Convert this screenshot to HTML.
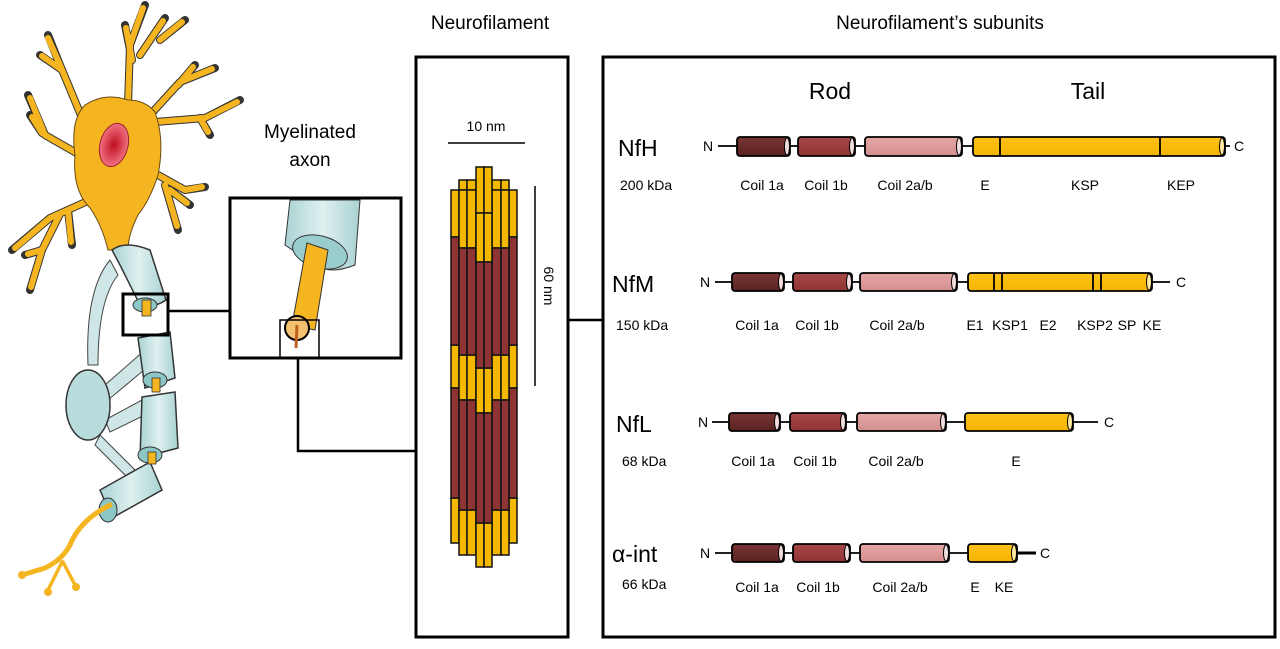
<!DOCTYPE html>
<html><head><meta charset="utf-8"><style>
html,body{margin:0;padding:0;background:#fff;}
svg{display:block;font-family:"Liberation Sans",Arial,sans-serif;}
</style></head><body>
<svg width="1280" height="649" viewBox="0 0 1280 649" xmlns="http://www.w3.org/2000/svg">
<defs>
<linearGradient id="c1" x1="0" y1="0" x2="0" y2="1"><stop offset="0" stop-color="#7a3535"/><stop offset="1" stop-color="#5a2222"/></linearGradient>
<linearGradient id="c2" x1="0" y1="0" x2="0" y2="1"><stop offset="0" stop-color="#a84848"/><stop offset="1" stop-color="#8e3333"/></linearGradient>
<linearGradient id="c3" x1="0" y1="0" x2="0" y2="1"><stop offset="0" stop-color="#e6a6a6"/><stop offset="1" stop-color="#d48f8f"/></linearGradient>
<linearGradient id="ct" x1="0" y1="0" x2="0" y2="1"><stop offset="0" stop-color="#ffc21a"/><stop offset="1" stop-color="#f5b400"/></linearGradient>
<linearGradient id="my" x1="0" y1="0" x2="1" y2="0"><stop offset="0" stop-color="#a9d2d2"/><stop offset="0.5" stop-color="#dff0f0"/><stop offset="1" stop-color="#a9d2d2"/></linearGradient>
<radialGradient id="nuc"><stop offset="0" stop-color="#c01020"/><stop offset="1" stop-color="#f07080"/></radialGradient>
</defs>

<!-- Neuron dendrites -->
<g id="dend" stroke-linecap="round" stroke-linejoin="round" fill="none">
<g stroke="#333" stroke-width="8">
<path d="M85 125 L60 65 L48 35"/><path d="M62 70 L40 55"/>
<path d="M128 105 L130 45 L145 5"/><path d="M132 60 L125 25"/><path d="M140 55 L165 18"/><path d="M160 40 L185 20"/>
<path d="M150 115 L180 82 L215 68"/><path d="M178 85 L195 65"/>
<path d="M155 122 L205 118 L240 100"/><path d="M200 118 L210 135"/>
<path d="M158 175 L185 190 L205 187"/><path d="M165 185 L178 230"/><path d="M170 190 L190 205"/>
<path d="M80 155 L45 135 L28 95"/><path d="M42 133 L30 115"/>
<path d="M90 200 L50 218 L12 250"/><path d="M60 214 L42 250 L30 290"/><path d="M68 210 L72 245"/><path d="M42 250 L25 255"/>
</g>
<g stroke="#f5b520" stroke-width="6">
<path d="M85 125 L60 65 L48 38"/><path d="M62 70 L42 56"/>
<path d="M128 105 L130 45 L143 8"/><path d="M132 60 L126 28"/><path d="M140 55 L163 21"/><path d="M160 40 L182 22"/>
<path d="M150 115 L180 82 L212 69"/><path d="M178 85 L193 67"/>
<path d="M155 122 L205 118 L237 102"/><path d="M200 118 L208 132"/>
<path d="M158 175 L185 190 L202 187"/><path d="M165 185 L177 226"/><path d="M170 190 L187 203"/>
<path d="M80 155 L45 135 L30 98"/><path d="M42 133 L32 117"/>
<path d="M90 200 L50 218 L15 248"/><path d="M60 214 L42 250 L31 287"/><path d="M68 210 L71 242"/><path d="M42 250 L28 254"/>
</g>
</g>
<path d="M85 105 Q105 92 128 100 Q145 100 155 112 Q165 140 158 175 Q150 200 138 215 Q128 235 128 250 L108 250 Q102 225 90 208 Q72 190 75 155 Q70 120 85 105Z" fill="#f5b520" stroke="#6a4a10" stroke-width="1"/>
<ellipse cx="114" cy="145" rx="14" ry="22" transform="rotate(15 114 145)" fill="url(#nuc)" stroke="#a02030"/>

<!-- myelin membranes -->
<g fill="#cfe6e6" stroke="#444" stroke-width="1">
<path d="M110 260 Q85 290 88 365 L98 365 Q98 300 118 275Z"/>
<path d="M105 385 L145 350 L150 365 L108 400Z"/>
<path d="M105 420 L142 400 L145 415 L110 432Z"/>
<path d="M100 435 L135 470 L128 478 L95 445Z"/>
</g>
<g stroke="#333" stroke-width="1.5" fill="url(#my)">
<path d="M112 250 Q125 240 150 250 L166 300 Q155 308 140 305 L120 265Z"/>
<ellipse cx="88" cy="405" rx="22" ry="35" fill="#b8dcdc"/>
<path d="M138 338 L170 332 L175 378 L145 388Z"/>
<path d="M142 397 L175 392 L178 448 L140 458Z"/>
<path d="M100 490 L150 462 L162 490 L112 518Z"/>
</g>
<g fill="#8cc6c6" stroke="#333" stroke-width="1">
<ellipse cx="145" cy="305" rx="12" ry="7"/>
<ellipse cx="155" cy="380" rx="12" ry="8"/>
<ellipse cx="150" cy="455" rx="12" ry="8"/>
<ellipse cx="108" cy="510" rx="9" ry="12"/>
</g>
<g fill="#f5b520" stroke="#333" stroke-width="0.8">
<rect x="142" y="300" width="9" height="16"/>
<rect x="152" y="378" width="8" height="14"/>
<rect x="148" y="452" width="8" height="12"/>
</g>
<path d="M110 505 Q80 520 70 545 Q62 560 45 568 L22 575" stroke="#f5b520" stroke-width="5" fill="none" stroke-linecap="round"/>
<path d="M62 562 L48 590 M63 562 L75 585" stroke="#f5b520" stroke-width="3.5" fill="none" stroke-linecap="round"/>
<g fill="#f5b520"><circle cx="22" cy="575" r="4"/><circle cx="48" cy="592" r="4"/><circle cx="76" cy="587" r="4"/></g>

<!-- Myelinated axon -->
<text x="310" y="138" font-size="19" text-anchor="middle">Myelinated</text>
<text x="310" y="166" font-size="19" text-anchor="middle">axon</text>
<rect x="123" y="294" width="45" height="41" fill="none" stroke="#000" stroke-width="3"/>
<line x1="168" y1="311" x2="230" y2="311" stroke="#000" stroke-width="2.5"/>
<rect x="230" y="198" width="171" height="160" fill="#fff" stroke="#000" stroke-width="3"/>
<path d="M290 200 L360 200 L355 265 Q330 275 315 265 L285 245Z" fill="url(#my)" stroke="#333"/>
<ellipse cx="320" cy="252" rx="28" ry="16" transform="rotate(15 320 252)" fill="#9cc" stroke="#333"/>
<path d="M307 243 L328 250 L315 330 L292 325Z" fill="#f5b520" stroke="#333"/>
<circle cx="297" cy="328" r="12" fill="#f5c070" stroke="#000" stroke-width="2"/>
<line x1="297" y1="325" x2="296" y2="348" stroke="#c06020" stroke-width="3"/>
<rect x="280" y="320" width="39" height="38" fill="none" stroke="#000" stroke-width="1.5"/>
<polyline points="298,358 298,451 416,451" fill="none" stroke="#000" stroke-width="2.5"/>

<!-- Neurofilament -->
<text x="490" y="29" font-size="19" text-anchor="middle">Neurofilament</text>
<rect x="416" y="57" width="152" height="580" fill="#fff" stroke="#000" stroke-width="3"/>
<line x1="568" y1="320" x2="603" y2="320" stroke="#000" stroke-width="2.5"/>
<text x="486" y="131" font-size="14" text-anchor="middle">10 nm</text>
<line x1="448" y1="143" x2="525" y2="143" stroke="#000" stroke-width="1.5"/>
<line x1="535" y1="186" x2="535" y2="386" stroke="#000" stroke-width="1.5"/>
<text x="0" y="0" font-size="14" text-anchor="middle" transform="translate(544 286) rotate(90)">60 nm</text>
<g stroke="#111" stroke-width="1.5">
<g fill="#f5b800"><rect x="451" y="190" width="8" height="47"/><rect x="509" y="190" width="8" height="47"/><rect x="451" y="345" width="8" height="43"/><rect x="509" y="345" width="8" height="43"/><rect x="451" y="498" width="8" height="45"/><rect x="509" y="498" width="8" height="45"/></g>
<g fill="#8e3434"><rect x="451" y="237" width="8" height="108"/><rect x="509" y="237" width="8" height="108"/><rect x="451" y="388" width="8" height="110"/><rect x="509" y="388" width="8" height="110"/></g>
<g fill="#f5b800">
<rect x="459" y="180" width="8" height="10"/><rect x="467" y="180" width="9" height="10"/><rect x="492" y="180" width="9" height="10"/><rect x="501" y="180" width="8" height="10"/>
<rect x="459" y="190" width="8" height="58"/><rect x="467" y="190" width="9" height="58"/><rect x="492" y="190" width="9" height="58"/><rect x="501" y="190" width="8" height="58"/>
<rect x="459" y="355" width="8" height="45"/><rect x="467" y="355" width="9" height="45"/><rect x="492" y="355" width="9" height="45"/><rect x="501" y="355" width="8" height="45"/>
<rect x="459" y="510" width="8" height="45"/><rect x="467" y="510" width="9" height="45"/><rect x="492" y="510" width="9" height="45"/><rect x="501" y="510" width="8" height="45"/>
</g>
<g fill="#8e3434">
<rect x="459" y="248" width="8" height="107"/><rect x="467" y="248" width="9" height="107"/><rect x="492" y="248" width="9" height="107"/><rect x="501" y="248" width="8" height="107"/>
<rect x="459" y="400" width="8" height="110"/><rect x="467" y="400" width="9" height="110"/><rect x="492" y="400" width="9" height="110"/><rect x="501" y="400" width="8" height="110"/>
</g>
<g fill="#f5b800">
<rect x="476" y="167" width="8" height="46"/><rect x="484" y="167" width="8" height="46"/>
<rect x="476" y="213" width="8" height="49"/><rect x="484" y="213" width="8" height="49"/>
<rect x="476" y="368" width="8" height="45"/><rect x="484" y="368" width="8" height="45"/>
<rect x="476" y="523" width="8" height="44"/><rect x="484" y="523" width="8" height="44"/>
</g>
<g fill="#8e3434">
<rect x="476" y="262" width="8" height="106"/><rect x="484" y="262" width="8" height="106"/>
<rect x="476" y="413" width="8" height="110"/><rect x="484" y="413" width="8" height="110"/>
</g>
</g>

<!-- Subunits -->
<text x="940" y="29" font-size="19" text-anchor="middle">Neurofilament’s subunits</text>
<rect x="603" y="57" width="672" height="580" fill="#fff" stroke="#000" stroke-width="3"/>
<text x="830" y="99" font-size="23" text-anchor="middle">Rod</text>
<text x="1088" y="99" font-size="23" text-anchor="middle">Tail</text>

<g stroke="#000" stroke-width="1.8">
<line x1="718" y1="146" x2="1230" y2="146"/>
<rect x="737" y="137" width="53" height="19" rx="3" fill="url(#c1)"/>
<rect x="798" y="137" width="57" height="19" rx="3" fill="url(#c2)"/>
<rect x="865" y="137" width="97" height="19" rx="3" fill="url(#c3)"/>
<rect x="973" y="137" width="252" height="19" rx="3" fill="url(#ct)"/>
<line x1="1000" y1="137" x2="1000" y2="156"/><line x1="1160" y1="137" x2="1160" y2="156"/>
<line x1="715" y1="282" x2="1170" y2="282"/>
<rect x="732" y="273" width="52" height="18" rx="3" fill="url(#c1)"/>
<rect x="793" y="273" width="59" height="18" rx="3" fill="url(#c2)"/>
<rect x="860" y="273" width="97" height="18" rx="3" fill="url(#c3)"/>
<rect x="968" y="273" width="184" height="18" rx="3" fill="url(#ct)"/>
<line x1="994" y1="273" x2="994" y2="291"/><line x1="1002" y1="273" x2="1002" y2="291"/>
<line x1="1093" y1="273" x2="1093" y2="291"/><line x1="1101" y1="273" x2="1101" y2="291"/>
<line x1="712" y1="422" x2="1098" y2="422"/>
<rect x="729" y="413" width="51" height="18" rx="3" fill="url(#c1)"/>
<rect x="790" y="413" width="56" height="18" rx="3" fill="url(#c2)"/>
<rect x="857" y="413" width="89" height="18" rx="3" fill="url(#c3)"/>
<rect x="965" y="413" width="108" height="18" rx="3" fill="url(#ct)"/>
<line x1="715" y1="553" x2="1036" y2="553"/>
<line x1="1017" y1="553" x2="1036" y2="553" stroke-width="3"/>
<rect x="732" y="544" width="52" height="18" rx="3" fill="url(#c1)"/>
<rect x="793" y="544" width="57" height="18" rx="3" fill="url(#c2)"/>
<rect x="860" y="544" width="89" height="18" rx="3" fill="url(#c3)"/>
<rect x="968" y="544" width="49" height="18" rx="3" fill="url(#ct)"/>
</g>
<g fill="#f2dede" stroke="#000" stroke-width="1">
<ellipse cx="787" cy="146.5" rx="2.5" ry="8.5"/><ellipse cx="852" cy="146.5" rx="2.5" ry="8.5"/><ellipse cx="959" cy="146.5" rx="2.5" ry="8.5"/><ellipse cx="1222" cy="146.5" rx="2.5" ry="8.5" fill="#ffe9a0"/>
<ellipse cx="781" cy="282" rx="2.5" ry="8"/><ellipse cx="849" cy="282" rx="2.5" ry="8"/><ellipse cx="954" cy="282" rx="2.5" ry="8"/><ellipse cx="1149" cy="282" rx="2.5" ry="8" fill="#ffe9a0"/>
<ellipse cx="777" cy="422" rx="2.5" ry="8"/><ellipse cx="843" cy="422" rx="2.5" ry="8"/><ellipse cx="943" cy="422" rx="2.5" ry="8"/><ellipse cx="1070" cy="422" rx="2.5" ry="8" fill="#ffe9a0"/>
<ellipse cx="781" cy="553" rx="2.5" ry="8"/><ellipse cx="847" cy="553" rx="2.5" ry="8"/><ellipse cx="946" cy="553" rx="2.5" ry="8"/><ellipse cx="1014" cy="553" rx="2.5" ry="8" fill="#ffe9a0"/>
</g>

<g font-size="14">
<text x="703" y="151">N</text><text x="1234" y="151">C</text>
<text x="700" y="287">N</text><text x="1176" y="287">C</text>
<text x="698" y="427">N</text><text x="1104" y="427">C</text>
<text x="700" y="558">N</text><text x="1040" y="558">C</text>
</g>
<g font-size="23">
<text x="618" y="156">NfH</text>
<text x="612" y="292">NfM</text>
<text x="616" y="432">NfL</text>
<text x="612" y="562">α-int</text>
</g>
<g font-size="14">
<text x="620" y="190">200 kDa</text>
<text x="616" y="330">150 kDa</text>
<text x="622" y="466">68 kDa</text>
<text x="622" y="589">66 kDa</text>
</g>
<g font-size="14" text-anchor="middle">
<text x="762" y="190">Coil 1a</text><text x="826" y="190">Coil 1b</text><text x="905" y="190">Coil 2a/b</text>
<text x="985" y="190">E</text><text x="1085" y="190">KSP</text><text x="1181" y="190">KEP</text>
<text x="757" y="330">Coil 1a</text><text x="817" y="330">Coil 1b</text><text x="897" y="330">Coil 2a/b</text>
<text x="975" y="330">E1</text><text x="1010" y="330">KSP1</text><text x="1048" y="330">E2</text><text x="1095" y="330">KSP2</text><text x="1127" y="330">SP</text><text x="1152" y="330">KE</text>
<text x="753" y="466">Coil 1a</text><text x="815" y="466">Coil 1b</text><text x="896" y="466">Coil 2a/b</text><text x="1016" y="466">E</text>
<text x="757" y="592">Coil 1a</text><text x="818" y="592">Coil 1b</text><text x="900" y="592">Coil 2a/b</text>
<text x="975" y="592">E</text><text x="1004" y="592">KE</text>
</g>
</svg>
</body></html>
